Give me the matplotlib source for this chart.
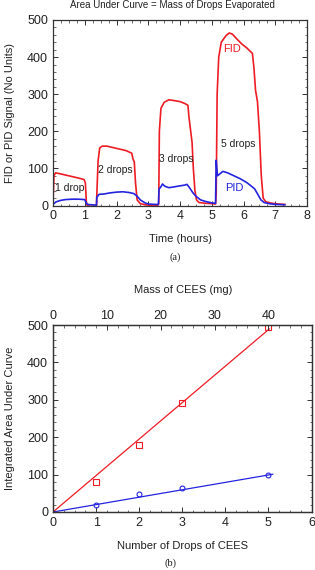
import matplotlib
matplotlib.use("Agg")
import matplotlib.pyplot as plt
from matplotlib.ticker import MultipleLocator
import numpy as np

plt.rcParams['font.family'] = ['Liberation Sans', 'DejaVu Sans']

# ---- Panel (a) data: detector signals vs time ----
fid_t = [0.00, 0.03, 0.08, 0.2, 0.4, 0.6, 0.8, 0.98, 1.02, 1.05, 1.08, 1.15, 1.3, 1.37,
         1.38, 1.42, 1.47, 1.55, 1.7, 1.9, 2.1, 2.3, 2.48, 2.52, 2.56, 2.6, 2.65, 2.75, 2.9,
         3.1, 3.3, 3.33, 3.35, 3.4, 3.5, 3.65, 3.8, 4.0, 4.15, 4.25, 4.28, 4.33, 4.38, 4.42,
         4.47, 4.52, 4.6, 4.8, 5.0, 5.12, 5.14, 5.17, 5.22, 5.3, 5.45, 5.55, 5.65, 5.8, 5.95,
         6.1, 6.28, 6.33, 6.38, 6.44, 6.5, 6.56, 6.62, 6.7, 6.9, 7.1, 7.3]
fid_v = [5, 80, 88, 86, 82, 78, 74, 70, 60, 10, 0, -2, -2, 0,
         30, 120, 155, 160, 160, 156, 152, 148, 141, 125, 118, 60, 15, 5, 2,
         0, 0, 5, 200, 262, 278, 285, 283, 280, 275, 270, 240, 205, 170, 100,
         40, 15, 8, 6, 5, 4, 30, 300, 400, 440, 458, 465, 462, 448, 435,
         425, 410, 370, 310, 280, 200, 80, 20, 10, 6, 4, 3]

pid_t = [0.0, 0.1, 0.25, 0.4, 0.6, 0.8, 1.0, 1.04, 1.08, 1.2, 1.37,
         1.38, 1.45, 1.6, 1.8, 2.0, 2.2, 2.4, 2.55, 2.65, 2.75, 2.9, 3.0, 3.2, 3.32,
         3.34, 3.38, 3.45, 3.52, 3.65, 3.8, 4.0, 4.15, 4.22, 4.3, 4.4, 4.5, 4.65, 4.8, 5.0, 5.12,
         5.14, 5.18, 5.25, 5.35, 5.5, 5.7, 5.9, 6.1, 6.25, 6.35, 6.45, 6.55, 6.65, 6.8, 7.0, 7.3]
pid_v = [3, 10, 14, 16, 17, 17, 16, 8, 3, 2, 1,
         22, 30, 31, 34, 36, 37, 35, 32, 25, 15, 7, 4, 3, 3,
         45, 48, 58, 52, 48, 50, 53, 55, 57, 48, 35, 25, 15, 11, 7, 6,
         122, 80, 85, 92, 88, 80, 72, 62, 52, 45, 30, 15, 8, 5, 3, 2]

drop_labels = ["1 drop", "2 drops", "3 drops", "5 drops"]
drop_label_t = [0.53, 1.97, 3.87, 5.84]
drop_label_v = [48, 96, 126, 165]

# ---- Panel (b) data: integrated area vs drops ----
drops = [1, 2, 3, 5]
fid_area = [80, 180, 292, 494]
pid_area = [18, 47, 63, 98]
fid_fit_slope = 97.5
pid_fit_slope = 19.8
fid_fit_end = 5.02
pid_fit_end = 5.1
mg_per_drop = 8.0

RED = '#ee1c25'
BLUE = '#2424e0'
SPINE = '#333333'

W, H = 315, 570
fig = plt.figure(figsize=(W / 100, H / 100), dpi=100)

def px_rect(l, t, r, b):
    return [l / W, 1 - b / H, (r - l) / W, (b - t) / H]

def style(ax):
    for s in ax.spines.values():
        s.set_color(SPINE)
        s.set_linewidth(0.9)
    ax.tick_params(which='both', direction='in', colors=SPINE, labelcolor='#222222',
                   labelsize=9, top=True, right=True)
    ax.tick_params(which='major', length=3.5, width=0.7)
    ax.tick_params(which='minor', length=1.8, width=0.5)

# Panel (a)
ax1 = fig.add_axes(px_rect(53, 20, 307, 205.5))
ax1.plot(fid_t, fid_v, color=RED, lw=1.2)
ax1.plot(pid_t, pid_v, color=BLUE, lw=1.2)
ax1.set_xlim(0, 8)
ax1.set_ylim(0, 500)
ax1.xaxis.set_major_locator(MultipleLocator(1))
ax1.xaxis.set_minor_locator(MultipleLocator(0.25))
ax1.yaxis.set_major_locator(MultipleLocator(100))
ax1.yaxis.set_minor_locator(MultipleLocator(20))
style(ax1)
for lab, t, v in zip(drop_labels, drop_label_t, drop_label_v):
    ax1.text(t, v, lab, fontsize=7.5, color='#222222', ha='center', va='center')
ax1.text(5.65, 422, "FID", fontsize=8, color=RED, ha='center', va='center')
ax1.text(5.7, 48, "PID", fontsize=8, color=BLUE, ha='center', va='center')

fig.text(172.7 / W, 1 - 5 / H, "Area Under Curve = Mass of Drops Evaporated",
         fontsize=7, color='#222222', ha='center', va='center')
fig.text(180.7 / W, 1 - 239 / H, "Time (hours)", fontsize=8, color='#222222',
         ha='center', va='center')
fig.text(10 / W, 1 - 112.5 / H, "FID or PID Signal (No Units)", fontsize=8,
         color='#222222', ha='center', va='center', rotation=90)
fig.text(175 / W, 1 - 257 / H, "(a)", fontsize=7.5, color='#222222', ha='center',
         va='center', family=['Liberation Serif', 'DejaVu Serif'])

# Panel (b)
ax2 = fig.add_axes(px_rect(53, 325, 311.5, 512))
ax2.plot([0, fid_fit_end], [0, fid_fit_slope * fid_fit_end], color=RED, lw=0.9)
ax2.plot([0, pid_fit_end], [0, pid_fit_slope * pid_fit_end], color=BLUE, lw=0.9)
ax2.plot(drops, fid_area, linestyle='none', marker='s', ms=4.2, mfc='none',
         mec=RED, mew=0.8)
ax2.plot(drops, pid_area, linestyle='none', marker='o', ms=3.5, mfc='none',
         mec=BLUE, mew=0.8)
ax2.set_xlim(0, 6)
ax2.set_ylim(0, 500)
ax2.xaxis.set_major_locator(MultipleLocator(1))
ax2.xaxis.set_minor_locator(MultipleLocator(0.25))
ax2.yaxis.set_major_locator(MultipleLocator(100))
ax2.yaxis.set_minor_locator(MultipleLocator(20))
style(ax2)
ax2.tick_params(top=False)

ax3 = ax2.twiny()
ax3.set_xlim(0, 6 * mg_per_drop)
ax3.xaxis.set_major_locator(MultipleLocator(10))
ax3.xaxis.set_minor_locator(MultipleLocator(2))
style(ax3)
ax3.tick_params(which='both', top=True, bottom=False, labeltop=True, labelbottom=False,
                pad=2)

fig.text(182.7 / W, 1 - 290 / H, "Mass of CEES (mg)", fontsize=8, color='#222222',
         ha='center', va='center')
fig.text(182.7 / W, 1 - 546 / H, "Number of Drops of CEES", fontsize=8,
         color='#222222', ha='center', va='center')
fig.text(10 / W, 1 - 418.5 / H, "Integrated Area Under Curve", fontsize=8,
         color='#222222', ha='center', va='center', rotation=90)
fig.text(170.7 / W, 1 - 563 / H, "(b)", fontsize=7.5, color='#222222', ha='center',
         va='center', family=['Liberation Serif', 'DejaVu Serif'])

fig.savefig("out.png", dpi=100, facecolor='white')
